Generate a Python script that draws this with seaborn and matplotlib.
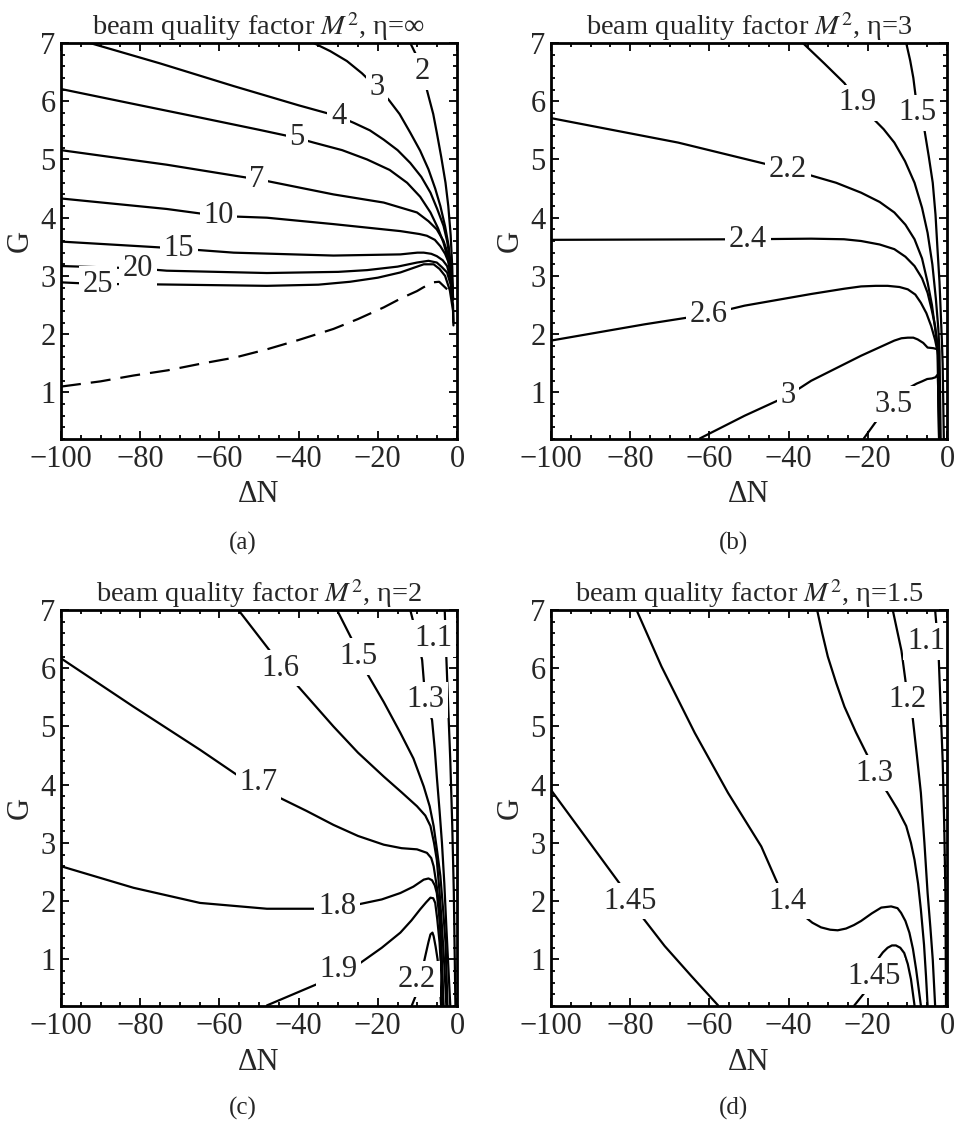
import matplotlib
matplotlib.use("Agg")
import matplotlib.pyplot as plt
import seaborn as sns

# ---------------------------------------------------------------------------
# Contour lines of the beam quality factor M^2 over (ΔN, G), one panel per η
# ---------------------------------------------------------------------------

# η = ∞
a_levels = ["2", "3", "4", "5", "7", "10", "15", "20", "25"]
a_x = [
    [-11.8, -10.2, -8.8, -7.2, -6, -5.1, -4, -2.9, -2.2, -1.6, -1.2, -1.0],
    [-36.2, -32, -27.8, -24, -20.2, -17.3, -14.5, -11.8, -9.3, -7.2, -5.5, -4.2,
     -3.0, -2.1, -1.5, -1.0],
    [-92.7, -75, -56.4, -40, -29.9, -26.1, -22, -18.5, -15, -11.8, -9, -6.7, -5,
     -3.4, -2.5, -1.8, -1.3, -1.0],
    [-100, -80, -64.9, -50, -40.4, -36.2, -29, -22.7, -17, -12.6, -9.3, -6.7, -4.8,
     -3.4, -2.4, -1.8, -1.3, -1.0],
    [-100, -73.3, -50.5, -48, -31.2, -18.5, -10.1, -7.2, -5.1, -3.4, -2.1, -1.4, -1.0],
    [-100, -73.3, -60.2, -48, -31.2, -14.3, -9.5, -7.6, -5.6, -4.2, -3.0, -2.1, -1.5, -1.0],
    [-100, -77.5, -70.3, -56.4, -31.2, -14.3, -10, -8.4, -6.5, -5.1, -3.6, -2.5, -1.6, -1.0],
    [-100, -80.5, -73.3, -48, -30, -22.7, -15, -10.1, -7.2, -5.1, -3.8, -2.5, -1.6,
     -1.0, -0.9],
    [-100, -90.6, -81.7, -48, -35, -27, -20, -14.3, -10.5, -8.4, -5.9, -4.4, -3.0,
     -1.8, -1.0, -0.9],
]
a_y = [
    [7.0, 6.78, 6.51, 6.09, 5.78, 5.46, 5.05, 4.6, 4.2, 3.7, 3.15, 2.6],
    [7.0, 6.86, 6.69, 6.48, 6.23, 6.03, 5.78, 5.46, 5.15, 4.83, 4.5, 4.2,
     3.85, 3.51, 3.1, 2.6],
    [7.0, 6.65, 6.26, 5.93, 5.74, 5.63, 5.5, 5.34, 5.16, 4.94, 4.7, 4.43, 4.15,
     3.86, 3.6, 3.3, 3.0, 2.6],
    [6.21, 5.93, 5.72, 5.51, 5.37, 5.29, 5.16, 5.0, 4.82, 4.6, 4.36, 4.09, 3.82,
     3.57, 3.32, 3.1, 2.85, 2.6],
    [5.16, 4.91, 4.66, 4.63, 4.4, 4.26, 4.09, 3.94, 3.8, 3.6, 3.34, 3.0, 2.6],
    [4.33, 4.15, 4.03, 4.0, 3.89, 3.77, 3.72, 3.69, 3.62, 3.51, 3.38, 3.23, 3.0, 2.6],
    [3.59, 3.5, 3.47, 3.4, 3.35, 3.37, 3.4, 3.4, 3.38, 3.34, 3.27, 3.17, 2.95, 2.6],
    [3.17, 3.13, 3.09, 3.05, 3.07, 3.1, 3.16, 3.23, 3.26, 3.23, 3.15, 3.06, 2.85,
     2.5, 2.2],
    [2.89, 2.86, 2.86, 2.83, 2.85, 2.9, 2.97, 3.06, 3.15, 3.2, 3.2, 3.12, 3.0,
     2.75, 2.4, 2.15],
]
a_label_x = [-8.8, -20.2, -29.9, -40.4, -50.5, -60.2, -70.3, -80.5, -90.6]
a_label_y = [6.51, 6.23, 5.74, 5.37, 4.66, 4.03, 3.47, 3.13, 2.86]
# dashed boundary curve in the η = ∞ panel
a_dash_x = [-100, -90, -81.7, -73, -64.9, -56, -48, -40, -31.2, -25, -18.5, -14,
            -10.1, -8.6, -6.1, -4.5, -2.5]
a_dash_y = [1.1, 1.19, 1.29, 1.38, 1.49, 1.6, 1.74, 1.9, 2.09, 2.26, 2.46, 2.62,
            2.74, 2.8, 2.89, 2.9, 2.77]

# η = 3
b_levels = ["1.5", "1.9", "2.2", "2.4", "2.6", "3", "3.5"]
b_x = [
    [-10.3, -9.3, -8.5, -7.4, -6.5, -5.7, -4.6, -3.6, -2.9, -2.4, -1.9, -1.6, -1.3,
     -1.1, -0.8],
    [-36.4, -31, -25.9, -22.5, -19.2, -16, -13.3, -10.6, -8.2, -6.3, -4.9, -3.7,
     -2.8, -2.2, -1.9, -1.6],
    [-100, -67.9, -40.2, -35.1, -28, -21.7, -17, -13.3, -10.5, -8.2, -6.3, -4.9,
     -3.8, -3.0, -2.4, -2.0, -1.8],
    [-100, -50.3, -34.3, -26, -21.7, -17, -13.3, -10.5, -8.2, -6.3, -4.9, -3.9,
     -3.0, -2.5, -2.2, -1.9],
    [-100, -76.3, -60.3, -51.1, -34.3, -26, -21.7, -18, -15, -12, -9.9, -8, -6.6,
     -5.2, -4.0, -3.0, -2.4, -2.0],
    [-62.4, -51.1, -40.2, -34.3, -21.7, -13.3, -11.5, -9.9, -8.5, -7.4, -6, -4.9,
     -3.5, -2.3, -1.9],
    [-21.0, -17.5, -13.6, -9.3, -7.7, -6.3, -5, -3.8, -2.9, -2.3, -2.0],
]
b_y = [
    [7.0, 6.7, 6.4, 5.8, 5.65, 5.51, 5.05, 4.6, 4.05, 3.46, 2.9, 2.4, 1.9, 1.5, 0.2],
    [7.0, 6.65, 6.31, 5.97, 5.74, 5.52, 5.29, 4.97, 4.6, 4.17, 3.74, 3.2, 2.6,
     2.1, 1.7, 0.2],
    [5.71, 5.29, 4.83, 4.74, 4.6, 4.43, 4.27, 4.09, 3.88, 3.63, 3.3, 2.89, 2.5,
     2.1, 1.8, 1.4, 0.2],
    [3.62, 3.63, 3.64, 3.63, 3.6, 3.54, 3.46, 3.33, 3.17, 2.96, 2.71, 2.43, 2.14,
     1.85, 1.6, 0.2],
    [1.89, 2.17, 2.34, 2.49, 2.69, 2.78, 2.82, 2.83, 2.83, 2.81, 2.77, 2.68, 2.54,
     2.36, 2.14, 1.9, 1.7, 0.2],
    [0.21, 0.6, 0.94, 1.2, 1.63, 1.89, 1.93, 1.94, 1.94, 1.91, 1.85, 1.77, 1.76,
     1.74, 0.2],
    [0.21, 0.54, 0.8, 1.09, 1.15, 1.19, 1.23, 1.24, 1.26, 1.31, 0.2],
]
b_label_x = [-7.4, -22.5, -40.2, -50.3, -60.3, -40.2, -13.6]
b_label_y = [5.8, 5.97, 4.83, 3.63, 2.34, 0.94, 0.8]

# η = 2
c_levels = ["1.1", "1.3", "1.5", "1.6", "1.7", "1.8", "1.9", "2.2"]
c_x = [
    [-3.1, -2.9, -2.7, -2.2, -1.7, -1.2, -0.8, -0.4],
    [-11.8, -10.3, -8.8, -8.0, -6.3, -5.6, -5.1, -4.4, -3.8, -3.2, -2.7, -1.7],
    [-30.3, -26.5, -24.9, -22.7, -18.5, -14.3, -11, -8.4, -6.9, -5.9, -5, -4.2,
     -3.5, -2.9, -2.4],
    [-55.2, -46.8, -44.6, -40.4, -31.2, -25, -18.5, -14, -10.1, -8.0, -6.7, -5.8,
     -5.1, -4.4, -3.8, -3.2, -2.7],
    [-100, -81.7, -64.9, -55.6, -50.1, -45.5, -38, -31.2, -25, -18.5, -14, -10.1,
     -7.6, -6.5, -5.9, -5.1, -4.4, -3.9, -3.4],
    [-100, -81.7, -64.9, -48, -35.4, -30.3, -25.3, -19, -14.3, -11, -8.4, -7.2,
     -6.3, -5.6, -5.1, -4.5, -4.0, -3.5],
    [-48, -34.5, -29.9, -24.4, -19, -14.3, -11.5, -9.3, -7.8, -6.7, -6.0, -5.5,
     -5.0, -4.4, -4.0, -3.7],
    [-11.4, -10.1, -9, -8.0, -7.2, -6.7, -6.2, -5.9, -5.4, -4.9, -4.4, -4.0],
]
c_y = [
    [7.0, 6.6, 6.2, 5.3, 4.43, 3.3, 2.14, 0.21],
    [7.0, 6.6, 6.14, 5.46, 5.11, 4.6, 4.14, 3.55, 3.0, 2.3, 1.57, 0.21],
    [7.0, 6.49, 6.2, 5.91, 5.42, 4.89, 4.45, 3.97, 3.63, 3.29, 2.85, 2.43, 1.85,
     1.29, 0.21],
    [7.0, 6.26, 6.0, 5.71, 5.0, 4.55, 4.14, 3.87, 3.63, 3.47, 3.29, 3.0, 2.71,
     2.15, 1.57, 0.9, 0.21],
    [6.17, 5.34, 4.6, 4.17, 4.03, 3.8, 3.55, 3.31, 3.12, 2.97, 2.91, 2.89, 2.83,
     2.74, 2.6, 2.25, 1.86, 1.1, 0.21],
    [2.6, 2.23, 1.97, 1.87, 1.87, 1.91, 1.94, 2.03, 2.14, 2.25, 2.37, 2.39, 2.36,
     2.27, 2.14, 1.75, 1.29, 0.21],
    [0.21, 0.6, 0.83, 0.94, 1.2, 1.46, 1.67, 1.86, 1.98, 2.06, 2.05, 1.97, 1.7,
     1.29, 0.8, 0.21],
    [0.21, 0.43, 0.75, 1.06, 1.3, 1.43, 1.46, 1.4, 1.22, 1.0, 0.6, 0.21],
]
c_label_x = [-5.9, -8.0, -24.9, -44.6, -50.1, -30.3, -29.9, -10.1]
c_label_y = [6.51, 5.46, 6.2, 6.0, 4.03, 1.91, 0.83, 0.66]

# η = 1.5
d_levels = ["1.1", "1.2", "1.3", "1.4", "1.45", "1.45"]
d_x = [
    [-3.0, -2.5, -2.1, -1.6, -1.1, -0.7, -0.4, -0.25],
    [-13.7, -12.6, -11.5, -10.3, -9.9, -8.7, -7.6, -6.6, -5.7, -4.9, -4.2, -3.6, -3.0],
    [-32.8, -31.5, -30.1, -28, -25.9, -23, -20.0, -18.3, -15, -12.5, -10.3, -9.1,
     -8.2, -7.3, -6.6, -5.8, -5.3, -4.9],
    [-78.4, -72.1, -63.7, -55.3, -46.9, -42.7, -40.2, -36.0, -34.0, -31.8, -29.5,
     -27.6, -25.5, -23.5, -21.7, -19, -16.6, -14.1, -12.5, -11.6, -10.5, -9.5,
     -8.6, -7.8, -6.6],
    [-100, -82.2, -80.1, -77.1, -71.3, -64.5, -57.8],
    [-23.4, -20.8, -18.3, -17.5, -16.2, -15, -13.9, -12.9, -11.8, -10.8, -9.9,
     -9.1, -8.2],
]
d_y = [
    [7.0, 6.6, 6.2, 5.3, 4.43, 3.3, 2.14, 0.21],
    [7.0, 6.65, 6.3, 5.69, 5.46, 5.17, 4.5, 3.86, 3.0, 2.14, 1.55, 1.0, 0.21],
    [7.0, 6.6, 6.2, 5.75, 5.34, 4.9, 4.49, 4.2, 3.86, 3.58, 3.29, 3.0, 2.71, 2.3,
     1.86, 1.25, 0.71, 0.21],
    [7.0, 6.03, 4.89, 3.86, 2.94, 2.29, 2.0, 1.74, 1.63, 1.55, 1.51,
     1.5, 1.53, 1.59, 1.66, 1.79, 1.89, 1.91, 1.88, 1.8, 1.66, 1.46,
     1.18, 0.83, 0.21],
    [3.91, 2.26, 2.0, 1.74, 1.23, 0.71, 0.21],
    [0.21, 0.43, 0.71, 1.0, 1.12, 1.2, 1.24, 1.24, 1.2, 1.11, 0.92, 0.66, 0.21],
]
d_label_x = [-5.3, -9.9, -18.3, -40.2, -80.1, -18.3]
d_label_y = [6.46, 5.46, 4.2, 2.0, 2.0, 0.71]

panel_titles = [r"beam quality factor $M^2$, η=∞", r"beam quality factor $M^2$, η=3",
                r"beam quality factor $M^2$, η=2", r"beam quality factor $M^2$, η=1.5"]
panel_tags = ["(a)", "(b)", "(c)", "(d)"]
x_ticks = [-100, -80, -60, -40, -20, 0]
y_ticks = [1, 2, 3, 4, 5, 6, 7]

# ---------------------------------------------------------------------------
sns.set_theme(style="ticks")
plt.rcParams["font.family"] = ["Liberation Serif", "DejaVu Serif"]
plt.rcParams["mathtext.fontset"] = "stix"

W, H = 956, 1127
fig = plt.figure(figsize=(W / 100, H / 100), dpi=100)
fig.patch.set_facecolor("white")

ax_w, ax_h = 396 / W, 396 / H
lefts = [61 / W, 551 / W]
bottoms = [(H - 439) / H, (H - 1006) / H]

panels = [
    (a_levels, a_x, a_y, a_label_x, a_label_y),
    (b_levels, b_x, b_y, b_label_x, b_label_y),
    (c_levels, c_x, c_y, c_label_x, c_label_y),
    (d_levels, d_x, d_y, d_label_x, d_label_y),
]
tag_pos = [(243, 543), (733, 543), (243, 1108), (733, 1108)]

FS = 22
for i, (levels, xs, ys, lxs, lys) in enumerate(panels):
    row, col = divmod(i, 2)
    ax = fig.add_axes([lefts[col], bottoms[row], ax_w, ax_h])
    ax.set_facecolor("white")

    for xv, yv in zip(xs, ys):
        sns.lineplot(x=xv, y=yv, sort=False, estimator=None, color="black",
                     linewidth=1.6, ax=ax, zorder=2)
    if i == 0:
        sns.lineplot(x=a_dash_x, y=a_dash_y, sort=False, estimator=None,
                     color="black", linewidth=1.6, ax=ax, zorder=2,
                     linestyle=(0, (9, 4.5)))

    for lab, lx, ly in zip(levels, lxs, lys):
        ax.text(lx, ly, lab, ha="center", va="center", fontsize=FS,
                zorder=4, clip_on=False,
                bbox=dict(boxstyle="square,pad=0.12", fc="white", ec="none"))

    ax.set_xlim(-100, 0)
    ax.set_ylim(0.2, 7)
    ax.set_xticks(x_ticks)
    ax.set_yticks(y_ticks)
    ax.set_xticks([v for v in range(-95, 0, 5) if v % 20 != 0], minor=True)
    ax.set_yticks([round(0.2 * k, 1) for k in range(1, 36) if k % 5 != 0],
                  minor=True)
    ax.set_xticklabels([str(v).replace("-", "\u2212") for v in x_ticks])
    ax.set_yticklabels([str(v) for v in y_ticks])
    ax.tick_params(which="both", direction="in", top=True, right=True,
                   color="black", width=1.3)
    ax.tick_params(which="major", length=6, labelsize=FS, pad=4)
    ax.tick_params(which="minor", length=3)
    for s in ax.spines.values():
        s.set_linewidth(2.0)
        s.set_color("black")
        s.set_zorder(5)
    ax.set_xlabel("ΔN", fontsize=FS, labelpad=5)
    ax.set_ylabel("G", fontsize=FS, labelpad=4)
    ax.set_title(panel_titles[i], fontsize=20.5, pad=5)

    tx, ty = tag_pos[i]
    fig.text(tx / W, 1 - ty / H, panel_tags[i], ha="center", va="center",
             fontsize=18)

fig.savefig("out.png", dpi=100, facecolor="white")
